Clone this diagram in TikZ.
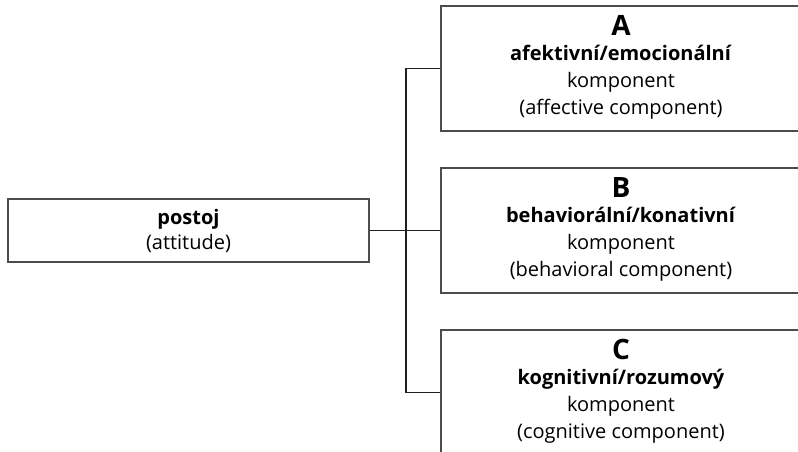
\documentclass[tikz,border=0pt]{standalone}
\usepackage{fontspec}
\setmainfont{Open Sans}
\newcommand{\bigletter}[1]{{\fontsize{28}{27}\selectfont\bfseries #1}\\[-2pt]}
\newcommand{\lowstrut}{\rule[-7pt]{0pt}{7pt}}
\begin{document}
\begin{tikzpicture}[x=1pt,y=-1pt,
  box/.style={draw=black!70, line width=1.5pt, rectangle, align=center, inner sep=0pt,
    font=\fontsize{20}{27}\selectfont},
  conn/.style={draw=black!88, line width=1.6pt}]
\useasboundingbox (0,0) rectangle (798,452);
\clip (0,0) rectangle (798,452);
\fill[white] (0,0) rectangle (798,452);
\node[box, minimum width=361pt, minimum height=63pt, font=\fontsize{20}{25}\selectfont] (att) at (188.5,230.5) {\textbf{postoj}\\(attitude)};
\node[box, minimum width=360pt, minimum height=125pt] (a) at (621,68.5)
  {\bigletter{A}\textbf{afektivní/emocionální}\\komponent\\(affective component)\lowstrut};
\node[box, minimum width=360pt, minimum height=125pt] (b) at (621,230.5)
  {\bigletter{B}\textbf{behaviorální/konativní}\\komponent\\(behavioral component)\lowstrut};
\node[box, minimum width=360pt, minimum height=125pt] (c) at (621,392.5)
  {\bigletter{C}\textbf{kognitivní/rozumový}\\komponent\\(cognitive component)\lowstrut};
\draw[conn] (att.east) -- ++(36,0) coordinate (mid);
\draw[conn] (a.west) -| (mid) |- (c.west);
\draw[conn] (mid) -- (b.west);
\end{tikzpicture}
\end{document}
